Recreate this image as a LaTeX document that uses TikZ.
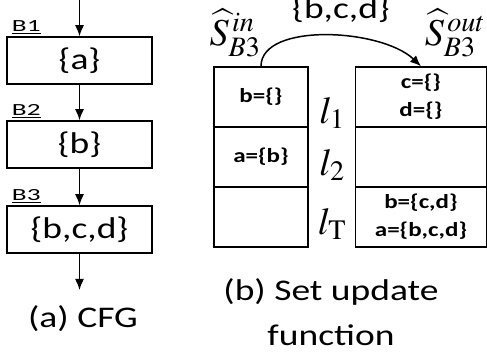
\documentclass[tikz,border=0pt]{standalone}
\usepackage{mathptmx}
\usepackage[no-math]{fontspec}
\setmainfont{Carlito}[FakeStretch=1.25]
\newfontfamily\tagfont{Carlito}[FakeStretch=1.6]
\usetikzlibrary{
    arrows.meta,
    calc,
    positioning
}
\tikzset{
    blk/.style={draw, line width=1.5pt, minimum width=145pt, minimum height=47pt, inner sep=0pt, font=\fontsize{30}{32}\selectfont},
    cell/.style={draw, line width=1.5pt, minimum width=94pt, minimum height=60pt, inner sep=0pt, align=center, font=\fontsize{20}{28}\selectfont\bfseries},
    wcell/.style={cell, minimum width=131pt},
    tag/.style={inner sep=0pt, font=\fontsize{17}{18}\tagfont},
    txt/.style={inner sep=0pt, font=\fontsize{30}{32}\selectfont},
    big/.style={inner sep=0pt, font=\fontsize{38}{40}\selectfont},
    subcap/.style={inner sep=0pt, align=center, font=\fontsize{30}{45}\selectfont},
    >={Latex[length=11pt, width=9pt]}
}

\begin{document}
\begin{tikzpicture}[x=1pt, y=-1pt, line width=1.5pt]
    \useasboundingbox (0,0) rectangle (487,352);

    % (a) the control flow graph
    \coordinate (entry) at (79.5,0);
    \node[blk] (b1) at (79.5,60.5) {\{a\}};
    \node[blk] (b2) at (79.5,144.5) {\{b\}};
    \node[blk] (b3) at (79.5,229.5) {\{b,c,d\}};
    \coordinate (exit) at (79.5,290);
    \node[tag, anchor=base west] (t1) at ([xshift=5pt, yshift=5pt]b1.north west) {\underline{B1}};
    \node[tag, anchor=base west] (t2) at ([xshift=5pt, yshift=5pt]b2.north west) {\underline{B2}};
    \node[tag, anchor=base west] (t3) at ([xshift=5pt, yshift=5pt]b3.north west) {\underline{B3}};
    \node[subcap, anchor=base] (capa) at (83,328) {(a) CFG};

    \draw[->] (entry) -- (b1);
    \draw[->] (b1) -- (b2);
    \draw[->] (b2) -- (b3);
    \draw[->] (b3) -- (exit);

    % (b) the set update function
    \node[cell] (c11) at (261,97) {b=\{\}};
    \node[cell] (c21) at (261,157) {a=\{b\}};
    \node[cell] (c31) at (261,217) {};
    \node[wcell] (c12) at (421,97) {c=\{\}\\d=\{\}};
    \node[wcell] (c22) at (421,157) {};
    \node[wcell] (c32) at (421,217) {b=\{c,d\}\\a=\{b,c,d\}};

    \node[big] (l1) at (332,113) {$l_1$};
    \node[big] (l2) at (332,165) {$l_2$};
    \node[big] (lt) at (332,224) {$l_{\mathrm{T}}$};

    \node[big] (sin) at (235,33) {$\widehat{S}_{B3}^{\,in}$};
    \node[big] (sout) at (455,33) {$\widehat{S}_{B3}^{\,out}$};

    \draw[->] (c11.north) .. controls +(0,-44) and +(-40,-38) .. (c12.north);
    \node[txt, anchor=base] (set) at (341,19) {\{b,c,d\}};

    \node[subcap, anchor=base] (capb) at (331,345) {(b) Set update\\function};
\end{tikzpicture}
\end{document}
